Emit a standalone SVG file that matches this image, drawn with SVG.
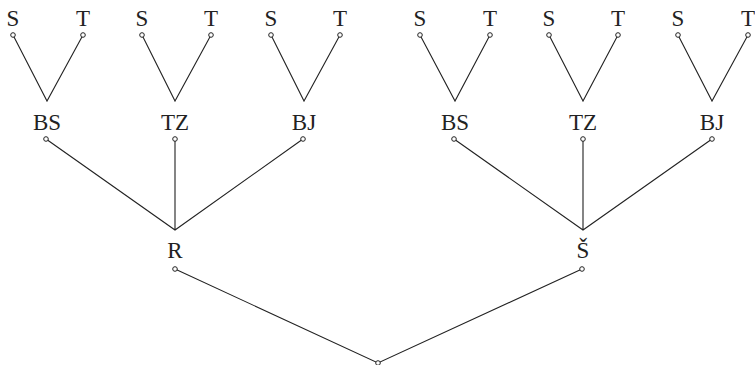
<svg xmlns="http://www.w3.org/2000/svg" width="755" height="365" viewBox="0 0 755 365">
<style>
.e{stroke:#222;stroke-width:1.1;fill:none}
.n{fill:#fff;stroke:#222;stroke-width:1}
text{font-family:"Liberation Serif","Times New Roman",serif;font-size:23px;fill:#222;text-anchor:middle}
</style>
<rect width="755" height="365" fill="#fff"/>
<g id="connectors">
<path class="e" d="M13 35L47 101L83 35M142 35L175 101L211 35M271 35L304 101L340 35M420 35L455 101L490 35M549 35L583 101L618 35M678 35L712 101L748 35"/>
<path class="e" d="M46 139L175 230L303 139M175 139L175 230M454 139L583 230L712 139M583 139L583 230"/>
<path class="e" d="M175 269L378 363L582 269"/>
</g>
<g id="leaf-S1"><text x="13" y="26">S</text><circle class="n" cx="13" cy="35" r="2.3"/></g>
<g id="leaf-T1"><text x="83" y="26">T</text><circle class="n" cx="83" cy="35" r="2.3"/></g>
<g id="leaf-S2"><text x="142" y="26">S</text><circle class="n" cx="142" cy="35" r="2.3"/></g>
<g id="leaf-T2"><text x="211" y="26">T</text><circle class="n" cx="211" cy="35" r="2.3"/></g>
<g id="leaf-S3"><text x="271" y="26">S</text><circle class="n" cx="271" cy="35" r="2.3"/></g>
<g id="leaf-T3"><text x="340" y="26">T</text><circle class="n" cx="340" cy="35" r="2.3"/></g>
<g id="leaf-S4"><text x="420" y="26">S</text><circle class="n" cx="420" cy="35" r="2.3"/></g>
<g id="leaf-T4"><text x="490" y="26">T</text><circle class="n" cx="490" cy="35" r="2.3"/></g>
<g id="leaf-S5"><text x="549" y="26">S</text><circle class="n" cx="549" cy="35" r="2.3"/></g>
<g id="leaf-T5"><text x="618" y="26">T</text><circle class="n" cx="618" cy="35" r="2.3"/></g>
<g id="leaf-S6"><text x="678" y="26">S</text><circle class="n" cx="678" cy="35" r="2.3"/></g>
<g id="leaf-T6"><text x="748" y="26">T</text><circle class="n" cx="748" cy="35" r="2.3"/></g>
<g id="BS1"><text x="47" y="130">BS</text><circle class="n" cx="46" cy="139" r="2.3"/></g>
<g id="TZ1"><text x="175" y="130">TZ</text><circle class="n" cx="175" cy="139" r="2.3"/></g>
<g id="BJ1"><text x="304" y="130">BJ</text><circle class="n" cx="303" cy="139" r="2.3"/></g>
<g id="BS2"><text x="455" y="130">BS</text><circle class="n" cx="454" cy="139" r="2.3"/></g>
<g id="TZ2"><text x="583" y="130">TZ</text><circle class="n" cx="583" cy="139" r="2.3"/></g>
<g id="BJ2"><text x="712" y="130">BJ</text><circle class="n" cx="712" cy="139" r="2.3"/></g>
<g id="R"><text x="175" y="258">R</text><circle class="n" cx="175" cy="269" r="2.3"/></g>
<g id="S-caron"><text x="583" y="258">Š</text><circle class="n" cx="582" cy="269" r="2.3"/></g>
<g id="root"><circle class="n" cx="378" cy="363" r="2.3"/></g>
</svg>
